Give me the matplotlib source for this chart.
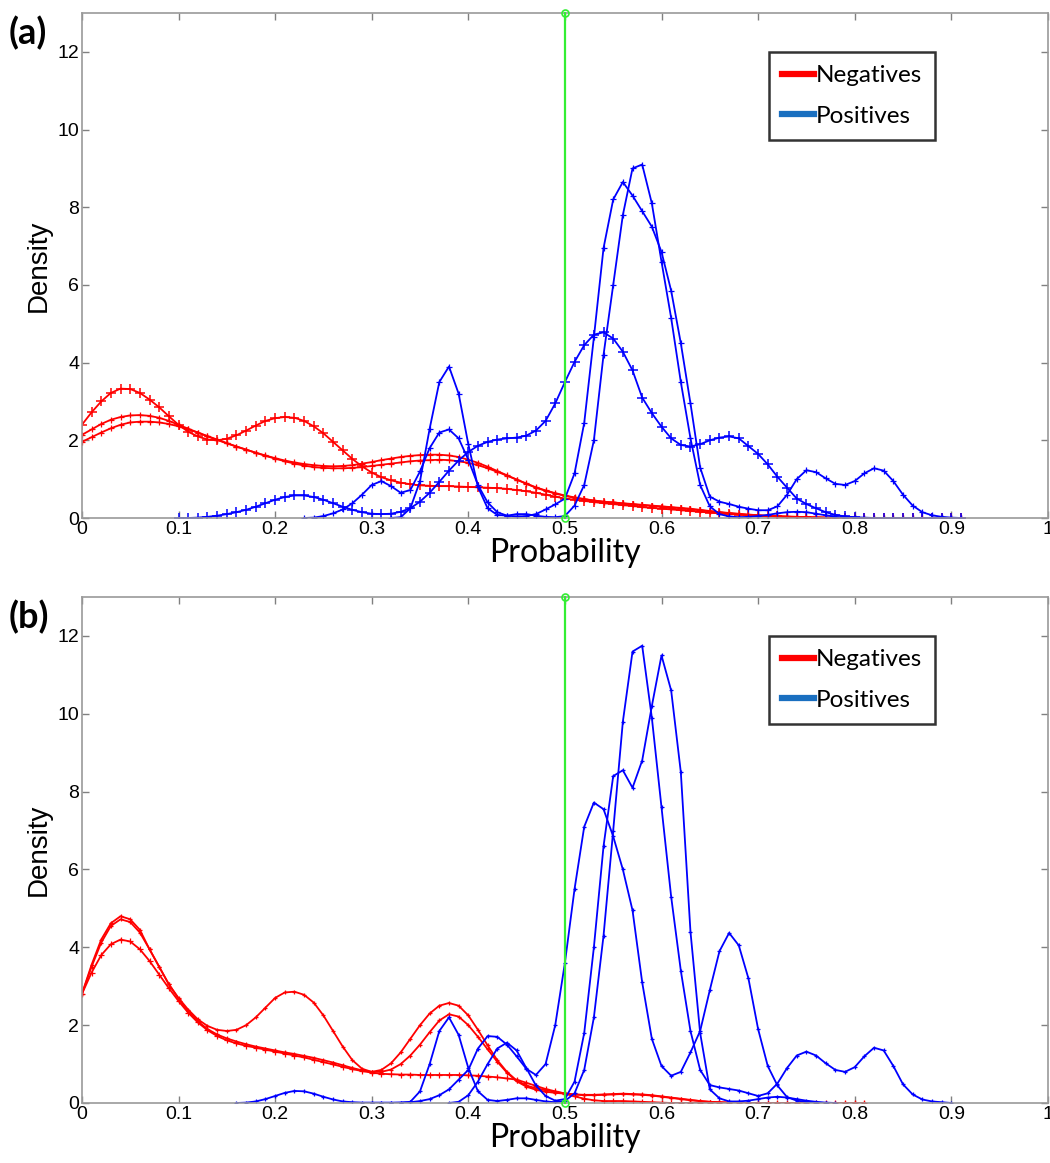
import numpy as np
import matplotlib
matplotlib.use("Agg")
import matplotlib.pyplot as plt
from matplotlib.lines import Line2D

# ksdensity curves, evaluated on a 0.01 grid starting at the given x
# ---- panel (a) ----
a_neg1_x0 = 0.00
a_neg1 = [2.40, 2.72, 3.00, 3.22, 3.33, 3.32, 3.22, 3.05, 2.85, 2.62,
          2.40, 2.22, 2.10, 2.02, 2.00, 2.04, 2.13, 2.25, 2.38, 2.50,
          2.57, 2.60, 2.58, 2.50, 2.36, 2.18, 1.96, 1.74, 1.52, 1.33,
          1.17, 1.05, 0.97, 0.91, 0.87, 0.84, 0.83, 0.82, 0.82, 0.81,
          0.80, 0.79, 0.78, 0.77, 0.75, 0.72, 0.69, 0.65, 0.60, 0.55,
          0.50, 0.47, 0.44, 0.41, 0.38, 0.36, 0.33, 0.31, 0.28, 0.26,
          0.24, 0.22, 0.20, 0.18, 0.16, 0.14, 0.12, 0.10, 0.09, 0.07,
          0.06, 0.05, 0.04, 0.03, 0.02, 0.02, 0.01, 0.01, 0.00, 0.00,
          0.00, 0.00, 0.00, 0.00, 0.00, 0.00, 0.00, 0.00, 0.00, 0.00,
          0.00, 0.00]
a_neg2_x0 = 0.00
a_neg2 = [2.14, 2.28, 2.42, 2.53, 2.60, 2.64, 2.65, 2.63, 2.58, 2.50,
          2.40, 2.30, 2.20, 2.10, 2.01, 1.92, 1.84, 1.76, 1.68, 1.61,
          1.54, 1.48, 1.43, 1.39, 1.36, 1.34, 1.33, 1.34, 1.36, 1.40,
          1.44, 1.49, 1.53, 1.57, 1.60, 1.62, 1.63, 1.63, 1.61, 1.57,
          1.50, 1.42, 1.32, 1.21, 1.10, 0.99, 0.88, 0.78, 0.70, 0.63,
          0.57, 0.52, 0.48, 0.45, 0.42, 0.40, 0.38, 0.36, 0.34, 0.32,
          0.30, 0.28, 0.26, 0.24, 0.21, 0.18, 0.15, 0.13, 0.11, 0.09,
          0.07, 0.06, 0.05, 0.04, 0.03, 0.02, 0.02, 0.01, 0.01, 0.00,
          0.00, 0.00, 0.00, 0.00, 0.00, 0.00, 0.00, 0.00, 0.00, 0.00,
          0.00, 0.00]
a_neg3_x0 = 0.00
a_neg3 = [1.96, 2.08, 2.20, 2.31, 2.40, 2.46, 2.48, 2.48, 2.46, 2.42,
          2.36, 2.28, 2.20, 2.11, 2.02, 1.93, 1.84, 1.76, 1.68, 1.60,
          1.53, 1.46, 1.40, 1.35, 1.31, 1.29, 1.28, 1.28, 1.29, 1.31,
          1.34, 1.37, 1.40, 1.43, 1.46, 1.48, 1.49, 1.50, 1.49, 1.46,
          1.42, 1.36, 1.28, 1.19, 1.09, 0.99, 0.89, 0.79, 0.71, 0.64,
          0.58, 0.53, 0.49, 0.45, 0.42, 0.40, 0.37, 0.35, 0.33, 0.31,
          0.29, 0.27, 0.25, 0.22, 0.20, 0.17, 0.15, 0.12, 0.10, 0.08,
          0.07, 0.05, 0.04, 0.03, 0.03, 0.02, 0.01, 0.01, 0.00, 0.00,
          0.00, 0.00, 0.00, 0.00, 0.00, 0.00, 0.00, 0.00, 0.00, 0.00,
          0.00, 0.00]
a_pos1_x0 = 0.10
a_pos1 = [0.00, 0.00, 0.01, 0.03, 0.06, 0.10, 0.15, 0.21, 0.29, 0.38,
          0.47, 0.54, 0.58, 0.58, 0.54, 0.47, 0.38, 0.29, 0.21, 0.15,
          0.11, 0.10, 0.11, 0.16, 0.25, 0.42, 0.65, 0.93, 1.22, 1.48,
          1.70, 1.86, 1.96, 2.02, 2.05, 2.07, 2.12, 2.25, 2.50, 2.95,
          3.50, 4.02, 4.45, 4.72, 4.78, 4.62, 4.28, 3.80, 3.10, 2.70,
          2.35, 2.05, 1.88, 1.84, 1.90, 2.00, 2.07, 2.10, 2.05, 1.85,
          1.65, 1.38, 1.06, 0.78, 0.50, 0.36, 0.25, 0.15, 0.08, 0.04,
          0.02, 0.01, 0.00, 0.00, 0.00, 0.00, 0.00, 0.00, 0.00, 0.00,
          0.00, 0.00]
a_pos2_x0 = 0.23
a_pos2 = [0.00, 0.01, 0.05, 0.12, 0.22, 0.38, 0.60, 0.85, 0.95, 0.82,
          0.65, 0.72, 1.20, 1.80, 2.20, 2.28, 2.05, 1.50, 0.85, 0.40,
          0.15, 0.06, 0.04, 0.05, 0.10, 0.22, 0.35, 0.50, 1.15, 2.45,
          4.65, 6.95, 8.20, 8.65, 8.30, 7.90, 7.50, 6.85, 5.85, 4.50,
          2.95, 1.30, 0.55, 0.42, 0.36, 0.29, 0.24, 0.20, 0.20, 0.30,
          0.60, 1.00, 1.23, 1.18, 1.02, 0.88, 0.85, 0.95, 1.15, 1.28,
          1.22, 0.95, 0.60, 0.32, 0.15, 0.07, 0.03, 0.01, 0.00]
a_pos3_x0 = 0.32
a_pos3 = [0.00, 0.02, 0.25, 0.95, 2.30, 3.50, 3.90, 3.20, 1.90, 0.80,
          0.25, 0.08, 0.06, 0.10, 0.10, 0.06, 0.03, 0.02, 0.05, 0.32,
          0.85, 2.00, 4.20, 6.00, 7.80, 9.00, 9.10, 8.10, 6.60, 5.15,
          3.50, 2.05, 0.85, 0.30, 0.10, 0.04, 0.02, 0.03, 0.05, 0.08,
          0.12, 0.15, 0.16, 0.15, 0.11, 0.07, 0.03, 0.01, 0.00]

# ---- panel (b) ----
b_neg1_x0 = 0.00
b_neg1 = [2.80, 3.55, 4.20, 4.62, 4.80, 4.72, 4.45, 3.95, 3.50, 3.05,
          2.70, 2.40, 2.15, 1.98, 1.88, 1.85, 1.88, 2.00, 2.20, 2.45,
          2.70, 2.84, 2.86, 2.78, 2.58, 2.25, 1.85, 1.45, 1.10, 0.88,
          0.80, 0.85, 1.02, 1.30, 1.65, 2.00, 2.30, 2.50, 2.57, 2.50,
          2.25, 1.88, 1.48, 1.10, 0.80, 0.58, 0.45, 0.38, 0.33, 0.29,
          0.25, 0.22, 0.20, 0.20, 0.21, 0.22, 0.23, 0.22, 0.21, 0.19,
          0.16, 0.13, 0.10, 0.07, 0.05, 0.03, 0.02, 0.01, 0.00, 0.00,
          0.00, 0.00, 0.00, 0.00, 0.00, 0.00, 0.00, 0.00, 0.00, 0.00,
          0.00, 0.00]
b_neg2_x0 = 0.00
b_neg2 = [2.80, 3.50, 4.12, 4.55, 4.72, 4.65, 4.38, 3.95, 3.50, 3.05,
          2.68, 2.36, 2.10, 1.90, 1.76, 1.66, 1.58, 1.51, 1.45, 1.40,
          1.35, 1.30, 1.26, 1.21, 1.16, 1.10, 1.04, 0.97, 0.90, 0.84,
          0.80, 0.80, 0.86, 1.00, 1.22, 1.50, 1.82, 2.12, 2.28, 2.22,
          2.00, 1.70, 1.38, 1.06, 0.78, 0.56, 0.42, 0.34, 0.29, 0.26,
          0.24, 0.22, 0.21, 0.21, 0.22, 0.23, 0.24, 0.23, 0.22, 0.20,
          0.17, 0.14, 0.11, 0.08, 0.05, 0.03, 0.02, 0.01, 0.00, 0.00,
          0.00, 0.00, 0.00, 0.00, 0.00, 0.00, 0.00, 0.00, 0.00, 0.00,
          0.00, 0.00]
b_neg3_x0 = 0.00
b_neg3 = [2.80, 3.35, 3.80, 4.08, 4.20, 4.15, 3.95, 3.65, 3.30, 2.95,
          2.62, 2.32, 2.07, 1.87, 1.72, 1.61, 1.53, 1.47, 1.42, 1.37,
          1.32, 1.27, 1.22, 1.17, 1.11, 1.05, 0.99, 0.93, 0.87, 0.82,
          0.78, 0.75, 0.74, 0.73, 0.73, 0.72, 0.72, 0.72, 0.72, 0.72,
          0.71, 0.70, 0.68, 0.66, 0.63, 0.60, 0.52, 0.44, 0.36, 0.30,
          0.24, 0.17, 0.11, 0.07, 0.05, 0.05, 0.05, 0.04, 0.03, 0.02,
          0.01, 0.00, 0.00, 0.00, 0.00, 0.00, 0.00, 0.00, 0.00, 0.00,
          0.00, 0.00, 0.00, 0.00, 0.00, 0.00, 0.00, 0.00, 0.00, 0.00,
          0.00, 0.00]
b_pos1_x0 = 0.16
b_pos1 = [0.00, 0.01, 0.04, 0.10, 0.18, 0.26, 0.31, 0.30, 0.24, 0.16,
          0.09, 0.04, 0.02, 0.01, 0.01, 0.01, 0.01, 0.01, 0.03, 0.30,
          1.00, 1.85, 2.20, 1.75, 0.90, 0.30, 0.08, 0.05, 0.08, 0.12,
          0.12, 0.08, 0.04, 0.02, 0.05, 0.25, 0.85, 2.20, 4.30, 7.00,
          9.80, 11.60, 11.75, 9.90, 7.60, 5.30, 3.40, 1.85, 0.85, 0.46,
          0.40, 0.36, 0.32, 0.25, 0.18, 0.25, 0.50, 0.90, 1.22, 1.32,
          1.22, 1.02, 0.85, 0.80, 0.92, 1.20, 1.42, 1.35, 0.95, 0.48,
          0.22, 0.09, 0.04, 0.02, 0.00]
b_pos2_x0 = 0.30
b_pos2 = [0.00, 0.00, 0.00, 0.01, 0.02, 0.05, 0.10, 0.20, 0.35, 0.60,
          0.85, 1.40, 1.72, 1.70, 1.50, 1.20, 0.88, 0.72, 1.00, 2.00,
          3.60, 5.50, 7.10, 7.72, 7.55, 6.85, 6.00, 4.95, 3.10, 1.65,
          0.95, 0.70, 0.80, 1.30, 1.85, 2.90, 3.90, 4.37, 4.05, 3.20,
          1.90, 0.95, 0.45, 0.15, 0.06, 0.03, 0.01, 0.00]
b_pos3_x0 = 0.38
b_pos3 = [0.00, 0.03, 0.20, 0.55, 1.00, 1.40, 1.55, 1.35, 0.90, 0.45,
          0.18, 0.06, 0.10, 0.55, 1.80, 4.00, 6.60, 8.40, 8.55, 8.10,
          8.80, 10.20, 11.50, 10.60, 8.50, 4.40, 1.80, 0.35, 0.12, 0.04,
          0.04, 0.06, 0.10, 0.14, 0.16, 0.14, 0.10, 0.06, 0.03, 0.01,
          0.00]

threshold = 0.5
legend_labels = ["Negatives", "Positives"]
x_ticks = [0, 0.1, 0.2, 0.3, 0.4, 0.5, 0.6, 0.7, 0.8, 0.9, 1]
x_ticklabels = ["0", "0.1", "0.2", "0.3", "0.4", "0.5", "0.6", "0.7", "0.8", "0.9", "1"]
y_ticks = [0, 2, 4, 6, 8, 10, 12]

RED = "#ff0000"
BLUE = "#0000ff"
STEP = 0.01


def grid(x0, ys):
    return x0 + STEP * np.arange(len(ys))


def curve(ax, x0, ys, color, ms, mew=0.9):
    ax.plot(grid(x0, ys), ys, color=color, lw=1.3, marker="+", ms=ms, mew=mew,
            solid_joinstyle="round")


def style(ax, tag):
    ax.set_xlim(0, 1)
    ax.set_ylim(0, 13)
    ax.set_xticks(x_ticks)
    ax.set_xticklabels(x_ticklabels)
    ax.set_yticks(y_ticks)
    ax.tick_params(direction="in", length=5, width=1, colors="#808080",
                   labelcolor="black", labelsize=14, top=True, right=True,
                   labeltop=False, labelright=False, pad=2)
    for lab in ax.get_xticklabels() + ax.get_yticklabels():
        lab.set_family("Liberation Sans")
    for s in ax.spines.values():
        s.set_color("#9a9a9a")
        s.set_linewidth(1.2)
    # decision threshold
    ax.plot([threshold, threshold], [0, 13], color="#33ee33", lw=1.6,
            marker="o", ms=5, mfc="none", mew=1.2, clip_on=False, zorder=5)
    ax.set_xlabel("Probability", family="Lato", fontsize=23, labelpad=0)
    ax.set_ylabel("Density", family="Liberation Sans", fontsize=20, labelpad=4)
    handles = [Line2D([], [], color="#ff0000", lw=4.5),
               Line2D([], [], color="#1a6fc0", lw=4.5)]
    leg = ax.legend(handles, legend_labels, loc="upper right",
                    bbox_to_anchor=(0.883, 0.923), frameon=True, fancybox=False,
                    prop={"family": "Lato", "size": 17.5}, handlelength=1.3,
                    handletextpad=0.05, borderpad=0.55, labelspacing=0.8,
                    borderaxespad=0)
    leg.get_frame().set_edgecolor("black")
    leg.get_frame().set_linewidth(1.8)
    ax.text(-0.076, 0.995, tag, transform=ax.transAxes, fontsize=26,
            fontweight="bold", family="Lato", ha="left", va="top")


fig = plt.figure(figsize=(10.5, 11.63), dpi=100)
ax1 = fig.add_axes([0.078, 0.5546, 0.92, 0.4342])
ax2 = fig.add_axes([0.078, 0.0516, 0.92, 0.435])

curve(ax1, a_neg1_x0, a_neg1, RED, 7, 1.1)
curve(ax1, a_neg2_x0, a_neg2, RED, 5)
curve(ax1, a_neg3_x0, a_neg3, RED, 4)
curve(ax1, a_pos1_x0, a_pos1, BLUE, 7, 1.1)
curve(ax1, a_pos2_x0, a_pos2, BLUE, 4)
curve(ax1, a_pos3_x0, a_pos3, BLUE, 5)

curve(ax2, b_neg1_x0, b_neg1, RED, 3)
curve(ax2, b_neg2_x0, b_neg2, RED, 3)
curve(ax2, b_neg3_x0, b_neg3, RED, 4)
curve(ax2, b_pos1_x0, b_pos1, BLUE, 3)
curve(ax2, b_pos2_x0, b_pos2, BLUE, 3)
curve(ax2, b_pos3_x0, b_pos3, BLUE, 3)

style(ax1, "(a)")
style(ax2, "(b)")

fig.savefig("out.png", dpi=100)
